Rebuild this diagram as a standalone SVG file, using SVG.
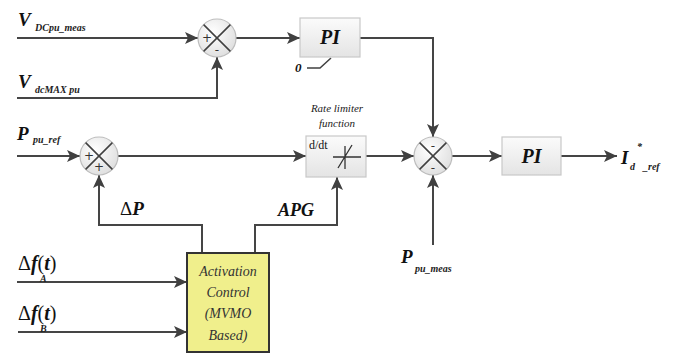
<svg xmlns="http://www.w3.org/2000/svg" width="692" height="354" viewBox="0 0 692 354">
<defs>
<linearGradient id="gbox" x1="0" y1="0" x2="0" y2="1"><stop offset="0" stop-color="#fbfbfb"/><stop offset="1" stop-color="#e4e4e4"/></linearGradient>
<radialGradient id="gcirc" cx="0.4" cy="0.35" r="0.7"><stop offset="0" stop-color="#ffffff"/><stop offset="1" stop-color="#dedede"/></radialGradient>
<marker id="ar" markerUnits="userSpaceOnUse" markerWidth="13" markerHeight="12" refX="13" refY="6" orient="auto"><path d="M0,0 L13,6 L0,12 L3,6 z" fill="#404040"/></marker>
</defs>
<style>
.ln{fill:none;stroke:#454545;stroke-width:2}
.box{fill:url(#gbox);stroke:#c8c8c8;stroke-width:1.2}
.circ{fill:url(#gcirc);stroke:#bdbdbd;stroke-width:1.2}
.x{stroke:#404040;stroke-width:1.5}
text{font-family:"Liberation Serif","DejaVu Serif","Times New Roman",Tinos,"Noto Serif",FreeSerif,serif}
.lbl{font-style:italic;font-weight:bold;fill:#111}
.sub{font-style:italic;font-weight:bold;fill:#222;font-size:10px}
.pi{font-style:italic;font-weight:bold;font-size:20px;fill:#111;text-anchor:middle}
.sg{font-family:"DejaVu Sans",sans-serif;font-size:12px;fill:#333;text-anchor:middle}
.sm{font-style:italic;font-size:11px;fill:#222;text-anchor:middle}
.ac{font-style:italic;font-size:14px;fill:#333;text-anchor:middle}
</style>
<g id="connectors">
<path class="ln" d="M17,38 H198" marker-end="url(#ar)"/>
<path class="ln" d="M17,98 H217 V57" marker-end="url(#ar)"/>
<path class="ln" d="M236,38 H300" marker-end="url(#ar)"/>
<path class="ln" d="M360,38 H433 V137" marker-end="url(#ar)"/>
<path class="ln" d="M17,156 H80" marker-end="url(#ar)"/>
<path class="ln" d="M118,156 H306" marker-end="url(#ar)"/>
<path class="ln" d="M366,156 H414" marker-end="url(#ar)"/>
<path class="ln" d="M433,245 V175" marker-end="url(#ar)"/>
<path class="ln" d="M452,156 H502" marker-end="url(#ar)"/>
<path class="ln" d="M561,156 H617" marker-end="url(#ar)"/>
<path class="ln" d="M202,253 V225 H99 V175" marker-end="url(#ar)"/>
<path class="ln" d="M255,253 V225 H337 V177" marker-end="url(#ar)"/>
<path class="ln" d="M17,282 H187" marker-end="url(#ar)"/>
<path class="ln" d="M18,332 H187" marker-end="url(#ar)"/>
<path d="M307,68 H320 L331,58" fill="none" stroke="#404040" stroke-width="1.5"/>
</g>
<g id="sum1">
<circle class="circ" cx="217" cy="38" r="19"/>
<path class="x" d="M203.6,24.6 L230.4,51.4 M230.4,24.6 L203.6,51.4"/>
<text class="sg" x="207" y="42">+</text>
<text class="sg" x="217" y="54">-</text>
</g>
<g id="pi1">
<rect class="box" x="300" y="18" width="60" height="39"/>
<text class="pi" x="330" y="44">PI</text>
<text class="lbl" x="295" y="72" font-size="13">0</text>
</g>
<g id="sum2">
<circle class="circ" cx="99" cy="156" r="19"/>
<path class="x" d="M85.6,142.6 L112.4,169.4 M112.4,142.6 L85.6,169.4"/>
<text class="sg" x="89" y="160">+</text>
<text class="sg" x="99" y="171">+</text>
</g>
<g id="ratelimiter">
<text class="sm" x="337" y="112">Rate limiter</text>
<text class="sm" x="337" y="127">function</text>
<rect class="box" x="306" y="136" width="60" height="41"/>
<text x="309" y="149" font-size="12" fill="#111">d/dt</text>
<path d="M333,157 H361 M345,146 V169 M338,168 L352,145" stroke="#333" stroke-width="1.3" fill="none"/>
</g>
<g id="sum3">
<circle class="circ" cx="433" cy="156" r="19"/>
<path class="x" d="M419.6,142.6 L446.4,169.4 M446.4,142.6 L419.6,169.4"/>
<text class="sg" x="433" y="150">-</text>
<text class="sg" x="433" y="172">-</text>
</g>
<g id="pi2">
<rect class="box" x="502" y="137" width="59" height="38"/>
<text class="pi" x="531.5" y="163">PI</text>
</g>
<g id="activation">
<rect x="187" y="253" width="82" height="99" fill="#f0ef8c" stroke="#333" stroke-width="2"/>
<text class="ac" x="228" y="276">Activation</text>
<text class="ac" x="228" y="297">Control</text>
<text class="ac" x="228" y="318">(MVMO</text>
<text class="ac" x="228" y="340">Based)</text>
</g>
<g id="labels">
<text class="lbl" x="18" y="26" font-size="19">V</text>
<text class="sub" x="35" y="31">DCpu_meas</text>
<text class="lbl" x="18" y="88" font-size="19">V</text>
<text class="sub" x="35" y="93">dcMAX pu</text>
<text class="lbl" x="17" y="140" font-size="19">P</text>
<text class="sub" x="33" y="143">pu_ref</text>
<text x="120" y="215" font-size="19" fill="#111">Δ<tspan font-style="italic" font-weight="bold">P</tspan></text>
<text class="lbl" x="278" y="216" font-size="18">APG</text>
<text class="lbl" x="401" y="263" font-size="19">P</text>
<text class="sub" x="415" y="272">pu_meas</text>
<text class="lbl" x="621" y="164" font-size="19">I</text>
<text class="sub" x="630" y="170">d</text>
<text class="sub" x="637" y="150" font-size="13">*</text>
<text class="sub" x="643" y="170">_ref</text>
<text x="18" y="270" font-size="20" fill="#111">Δ<tspan font-style="italic" font-weight="bold">f</tspan><tspan>(</tspan><tspan font-style="italic" font-weight="bold">t</tspan><tspan>)</tspan></text>
<text class="sub" x="40" y="282">A</text>
<text x="18" y="320" font-size="20" fill="#111">Δ<tspan font-style="italic" font-weight="bold">f</tspan><tspan>(</tspan><tspan font-style="italic" font-weight="bold">t</tspan><tspan>)</tspan></text>
<text class="sub" x="40" y="332">B</text>
</g>
</svg>
